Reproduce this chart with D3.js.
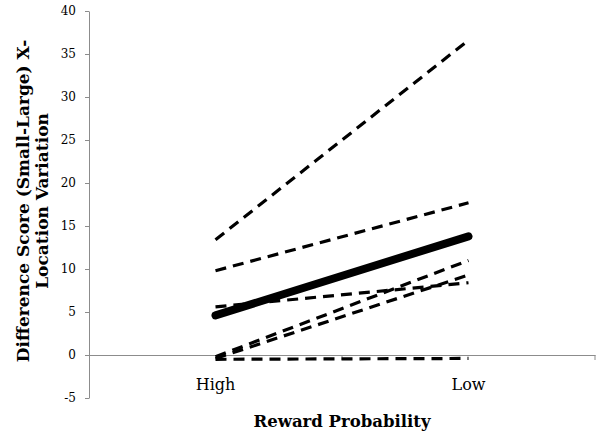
<!DOCTYPE html>
<html lang="en">
<head>
	<meta charset="UTF-8"/>
	<title>Difference score by reward probability</title>
	<script src="https://d3js.org/d3.v7.min.js"></script>
	<style>
		body { margin: 0; background: #fff; }
		text { font-family: "DejaVu Serif", "Liberation Serif", serif; fill: #000; }
	</style>
</head>
<body>
	<script>
	var w = 600;
	var h = 433;

	// data
	var categories = ["High", "Low"];
	var subject1 = [13.4, 36.6];
	var subject2 = [9.8, 17.7];
	var subject3 = [5.6, 8.4];
	var subject4 = [-0.2, 11.0];
	var subject5 = [-0.4, 9.3];
	var subject6 = [-0.5, -0.4];
	var meanLine = [4.6, 13.8];
	var yTicks = [-5, 0, 5, 10, 15, 20, 25, 30, 35, 40];

	var subjects = [subject1, subject2, subject3, subject4, subject5, subject6];

	var xScale = d3.scaleBand()
					.domain(categories)
					.range([89, 595])
					.padding(0);

	var yScale = d3.scaleLinear()
					.domain([-5, 40])
					.range([398, 11]);

	var svg = d3.select("body")
				.append("svg")
				.attr("width", w)
				.attr("height", h);

	// y axis (plain hyphen for the minus, like the original)
	var yAxis = svg.append("g")
		.attr("transform", "translate(89,0)")
		.call(d3.axisLeft(yScale)
			.tickValues(yTicks)
			.tickFormat(function(d) { return String(d); })
			.tickSize(4).tickPadding(9).tickSizeOuter(0));
	yAxis.select(".domain").attr("stroke", "#8c8c8c");
	yAxis.selectAll(".tick line").attr("stroke", "#8c8c8c");
	yAxis.selectAll("text").style("font-size", "12px");

	// x axis along zero
	var xAxis = svg.append("g")
		.attr("transform", "translate(0," + yScale(0) + ")")
		.call(d3.axisBottom(xScale).tickSize(0).tickPadding(24).tickSizeOuter(0));
	xAxis.select(".domain").attr("stroke", "#8c8c8c");
	xAxis.selectAll("text").style("font-size", "16px");

	// tick marks on category boundaries
	svg.selectAll(".bound")
		.data(categories)
		.enter()
		.append("line")
		.attr("class", "bound")
		.attr("x1", function(d) { return xScale(d) + xScale.bandwidth(); })
		.attr("x2", function(d) { return xScale(d) + xScale.bandwidth(); })
		.attr("y1", yScale(0))
		.attr("y2", yScale(0) + 5)
		.attr("stroke", "#8c8c8c");

	var line = d3.line()
		.x(function(d, i) { return xScale(categories[i]) + xScale.bandwidth() / 2; })
		.y(function(d) { return yScale(d); });

	svg.selectAll(".subject")
		.data(subjects)
		.enter()
		.append("path")
		.attr("class", "subject")
		.attr("d", line)
		.attr("fill", "none")
		.attr("stroke", "#000")
		.attr("stroke-width", 3.2)
		.attr("stroke-dasharray", "11,7");

	svg.append("path")
		.datum(meanLine)
		.attr("d", line)
		.attr("fill", "none")
		.attr("stroke", "#000")
		.attr("stroke-width", 8)
		.attr("stroke-linecap", "round");

	// axis titles
	svg.append("text")
		.attr("x", 342)
		.attr("y", 427)
		.attr("text-anchor", "middle")
		.style("font-size", "16.5px")
		.style("font-weight", "bold")
		.text("Reward Probability");

	var yTitle = svg.append("text")
		.attr("transform", "translate(0,201) rotate(-90)")
		.attr("text-anchor", "middle")
		.style("font-size", "17px")
		.style("font-weight", "bold");
	yTitle.append("tspan").attr("x", 0).attr("y", 29).text("Difference Score (Small-Large) X-");
	yTitle.append("tspan").attr("x", 0).attr("y", 48).text("Location Variation");
	</script>
</body>
</html>
